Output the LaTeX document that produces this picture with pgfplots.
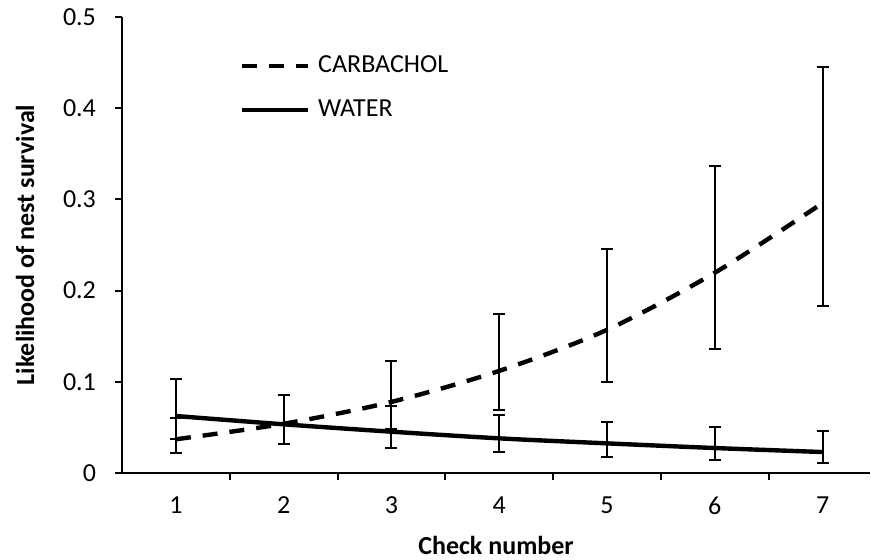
\documentclass[border=0pt]{standalone}
\usepackage{pgfplots}
\pgfplotsset{compat=1.18}
\usepackage{pgfplotstable}
\usepackage{fontspec}
\setmainfont{Carlito}
\newcommand\fs{\fontsize{13pt}{15pt}\selectfont}

\pgfplotstableread{
x y lo hi
1 0.037 0.0216 0.060
2 0.054 0.032 0.0855
3 0.078 0.048 0.1228
4 0.112 0.069 0.1747
5 0.157 0.0998 0.2456
6 0.2196 0.136 0.337
7 0.296 0.183 0.445
}\carb

\pgfplotstableread{
x y lo hi
1 0.0625 0.037 0.1027
2 0.0534 0.032 0.0855
3 0.0453 0.027 0.0735
4 0.038 0.0227 0.064
5 0.0325 0.0179 0.0563
6 0.0274 0.0143 0.0508
7 0.023 0.0113 0.046
}\water

\begin{document}
\begin{tikzpicture}
\useasboundingbox (-61pt,-43pt) rectangle (374.5pt,236.5pt);
\begin{axis}[
  at={(0,0)}, anchor=south west,
  scale only axis,
  width=374pt, height=228pt,
  xmin=0.5, xmax=7.44,
  ymin=0, ymax=0.5,
  axis x line*=bottom,
  axis y line*=left,
  axis line style={line width=1pt},
  tick align=outside,
  major tick length=3.5pt,
  minor tick length=3.5pt,
  xtick={1,...,7},
  xticklabels={1,2,3,4,5,6,7},
  minor xtick={1.5,2.5,...,6.5},
  x tick style={draw=none},
  minor x tick style={draw=black, line width=1pt},
  y tick style={line width=1pt, black},
  ytick={0,0.1,...,0.5},
  yticklabels={0,0.1,0.2,0.3,0.4,0.5},
  /pgf/number format/assume math mode=true,
  tick label style={font=\fs},
  xticklabel style={yshift=-5pt},
  yticklabel style={xshift=-6pt},
  xlabel={Check number},
  ylabel={Likelihood of nest survival},
  label style={font=\fs\bfseries},
  xlabel style={at={(axis description cs:0.5,-0.158)}, anchor=center},
  ylabel style={at={(axis description cs:-0.1297,0.5)}, anchor=center},
  legend image code/.code={\draw[#1] (0pt,0pt) -- (33pt,0pt); \path (35pt,0pt);},
  legend style={draw=none, fill=none, font=\fs, at={(axis description cs:0.157,0.924)}, anchor=north west, row sep=8pt, inner sep=0pt},
  legend cell align=left,
  clip=false,
]
\addplot[black, line width=2.2pt, dash pattern=on 7.5pt off 6pt, smooth,
  error bars/.cd, y dir=both, y explicit,
  error bar style={solid, line width=1pt},
  error mark options={rotate=90, mark size=3pt, solid, line width=1pt}]
  table[x=x, y=y, y error plus expr=\thisrow{hi}-\thisrow{y}, y error minus expr=\thisrow{y}-\thisrow{lo}] {\carb};
\addlegendentry{CARBACHOL}
\addplot[black, line width=2.2pt, smooth,
  error bars/.cd, y dir=both, y explicit,
  error bar style={solid, line width=1pt},
  error mark options={rotate=90, mark size=3pt, solid, line width=1pt}]
  table[x=x, y=y, y error plus expr=\thisrow{hi}-\thisrow{y}, y error minus expr=\thisrow{y}-\thisrow{lo}] {\water};
\addlegendentry{WATER}
\end{axis}
\end{tikzpicture}
\end{document}
